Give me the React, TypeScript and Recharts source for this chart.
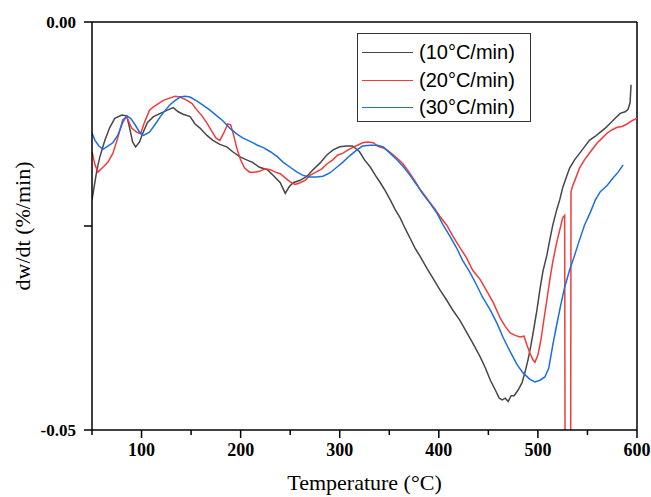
import React from 'react';
import { LineChart, Line, XAxis, YAxis, Legend, ReferenceLine } from 'recharts';

// [temperature °C, dw/dt %/min]
const rate10: [number, number][] = [
  [50, -0.0218], [55, -0.0181], [58, -0.0165], [63, -0.0145], [68, -0.0129], [73, -0.0118], [80, -0.0114],
  [85, -0.0115], [88, -0.013], [91, -0.0147], [94, -0.0153], [98, -0.0147], [101, -0.0137], [106, -0.0123],
  [112, -0.0116], [119, -0.0112], [126, -0.0108], [132, -0.0105], [137, -0.011], [142, -0.0113], [149, -0.0116],
  [154, -0.0125], [159, -0.013], [166, -0.0139], [172, -0.0145], [179, -0.015], [186, -0.0153], [192, -0.0159],
  [199, -0.0165], [206, -0.0169], [212, -0.0172], [219, -0.0178], [227, -0.0181], [233, -0.0188], [240, -0.0197],
  [245, -0.021], [249, -0.0202], [253, -0.0197], [260, -0.0194], [267, -0.0189], [273, -0.0181], [280, -0.0173],
  [287, -0.0163], [293, -0.0157], [300, -0.0153], [307, -0.0152], [313, -0.0152], [320, -0.0159], [325, -0.0169],
  [331, -0.0178], [336, -0.0188], [341, -0.0197], [346, -0.0207], [351, -0.0218], [356, -0.023], [361, -0.024],
  [366, -0.0253], [371, -0.0265], [376, -0.0277], [381, -0.0287], [388, -0.0302], [394, -0.0314], [401, -0.0328],
  [408, -0.0341], [414, -0.0353], [421, -0.0365], [428, -0.038], [434, -0.0393], [442, -0.0411], [447, -0.0424],
  [452, -0.0439], [457, -0.0451], [461, -0.0461], [464, -0.0463], [467, -0.0461], [470, -0.0465], [473, -0.0458],
  [476, -0.0458], [480, -0.0451], [484, -0.0442], [487, -0.0429], [490, -0.0414], [493, -0.0396], [496, -0.0375],
  [499, -0.0353], [502, -0.0328], [505, -0.0306], [509, -0.0286], [512, -0.0267], [515, -0.0249], [519, -0.023],
  [522, -0.0218], [525, -0.0203], [529, -0.0189], [532, -0.0179], [537, -0.0169], [542, -0.0161], [547, -0.0153],
  [552, -0.0145], [558, -0.014], [563, -0.0135], [568, -0.013], [573, -0.0124], [578, -0.0118], [583, -0.0112],
  [588, -0.011], [591, -0.0107], [593, -0.0099], [594, -0.0077],
];

const rate20: [number, number][] = [
  [50, -0.0159], [53, -0.0175], [56, -0.0184], [61, -0.0178], [66, -0.0172], [71, -0.0161], [76, -0.0142],
  [81, -0.012], [85, -0.0116], [90, -0.013], [95, -0.0135], [99, -0.0137], [103, -0.0123], [108, -0.0108],
  [112, -0.0104], [117, -0.01], [122, -0.0096], [129, -0.0093], [134, -0.0091], [139, -0.0092], [146, -0.0096],
  [151, -0.01], [156, -0.0108], [161, -0.0115], [166, -0.0124], [171, -0.0134], [175, -0.0142], [179, -0.0145],
  [183, -0.0136], [187, -0.0125], [190, -0.0126], [193, -0.0139], [196, -0.0154], [200, -0.0169], [204, -0.0179],
  [209, -0.0184], [214, -0.0184], [219, -0.0183], [225, -0.018], [230, -0.0181], [235, -0.0184], [240, -0.0186],
  [245, -0.0191], [250, -0.0196], [255, -0.0199], [260, -0.0197], [265, -0.0194], [270, -0.0188], [276, -0.0184],
  [282, -0.018], [287, -0.0174], [293, -0.0169], [298, -0.0163], [303, -0.0161], [308, -0.0157], [313, -0.0154],
  [318, -0.0151], [323, -0.0148], [328, -0.0147], [334, -0.0148], [338, -0.0152], [343, -0.0154], [348, -0.0157],
  [353, -0.0162], [358, -0.0167], [364, -0.0174], [370, -0.0184], [376, -0.0195], [381, -0.0205], [386, -0.0213],
  [391, -0.0221], [396, -0.0229], [401, -0.0238], [408, -0.0249], [414, -0.0262], [421, -0.0276], [428, -0.0289],
  [434, -0.0304], [442, -0.0316], [449, -0.0331], [455, -0.0344], [462, -0.0363], [467, -0.0373], [472, -0.0381],
  [477, -0.0384], [482, -0.0386], [486, -0.0385], [489, -0.0396], [492, -0.0406], [495, -0.0414], [497, -0.0417],
  [500, -0.0408], [503, -0.039], [506, -0.0365], [509, -0.0341], [512, -0.0316], [515, -0.0294], [519, -0.027],
  [522, -0.0255], [525, -0.024], [527, -0.0237], [527.5, -0.06], [533, -0.06], [533.4, -0.0208], [535, -0.0201],
  [537, -0.0195], [542, -0.0179], [547, -0.0169], [553, -0.0159], [560, -0.0148], [565, -0.0142], [570, -0.0136],
  [575, -0.0132], [580, -0.0129], [585, -0.0128], [590, -0.0125], [595, -0.0121], [600, -0.0118],
];

const rate30: [number, number][] = [
  [50, -0.0136], [53, -0.0145], [57, -0.0152], [61, -0.0156], [66, -0.0152], [71, -0.0148], [76, -0.0139],
  [81, -0.0123], [85, -0.0115], [89, -0.0118], [93, -0.0125], [98, -0.0135], [102, -0.0139], [108, -0.0135],
  [114, -0.0125], [119, -0.0116], [124, -0.0108], [129, -0.0101], [134, -0.0096], [139, -0.0092], [144, -0.0091],
  [149, -0.0092], [156, -0.0097], [162, -0.0102], [169, -0.0108], [176, -0.0115], [182, -0.0121], [189, -0.013],
  [196, -0.0137], [202, -0.0142], [209, -0.0146], [217, -0.0151], [223, -0.0154], [230, -0.0159], [237, -0.0165],
  [243, -0.0172], [250, -0.0178], [257, -0.0184], [263, -0.0188], [270, -0.019], [277, -0.019], [283, -0.0189],
  [290, -0.0185], [297, -0.0178], [303, -0.0172], [310, -0.0164], [317, -0.0157], [323, -0.0152], [331, -0.0151],
  [338, -0.0151], [344, -0.0153], [351, -0.0161], [358, -0.0169], [364, -0.0177], [371, -0.0188], [378, -0.02],
  [384, -0.0211], [391, -0.0222], [398, -0.0234], [404, -0.0248], [411, -0.0262], [418, -0.0277], [424, -0.0292],
  [431, -0.0306], [438, -0.0322], [444, -0.0337], [452, -0.0353], [459, -0.037], [465, -0.0387], [472, -0.0404],
  [479, -0.042], [485, -0.043], [492, -0.0438], [497, -0.0441], [502, -0.0439], [507, -0.0435], [511, -0.0424],
  [515, -0.0396], [519, -0.0371], [523, -0.0347], [527, -0.0325], [532, -0.0304], [537, -0.0286], [542, -0.0267],
  [547, -0.0249], [553, -0.0233], [558, -0.0218], [563, -0.0208], [570, -0.02], [576, -0.0191], [581, -0.0184],
  [586, -0.0175],
];

const seriesNames = ['(10°C/min)', '(20°C/min)', '(30°C/min)'];
const seriesColors = ['#474747', '#f23b3b', '#1b6fdf'];
const xTicks = [50, 100, 150, 200, 250, 300, 350, 400, 450, 500, 550, 600];
const xLabels = [100, 200, 300, 400, 500, 600];
const yTicks = [0, -0.025, -0.05];
const yLabels: Record<string, string> = { '0': '0.00', '-0.05': '-0.05' };

const toPoints = (arr: [number, number][]) => arr.map(([T, v]) => ({ T, v }));
const seriesData = [toPoints(rate10), toPoints(rate20), toPoints(rate30)];

const serif = "'Times New Roman', 'Liberation Serif', serif";

const XTick = (props: any) => {
  const { x, y, payload } = props;
  const major = xLabels.includes(payload.value);
  return (
    <g>
      <line x1={x} x2={x} y1={y} y2={y + (major ? 8 : 5)} stroke="#000" strokeWidth={1.5} />
      {major && (
        <text x={x} y={y + 26} textAnchor="middle" fontFamily={serif} fontWeight="bold" fontSize={18} fill="#000">
          {payload.value}
        </text>
      )}
    </g>
  );
};

const YTick = (props: any) => {
  const { x, y, payload } = props;
  const label = yLabels[String(payload.value)];
  return (
    <g>
      <line x1={x - 8} x2={x} y1={y} y2={y} stroke="#000" strokeWidth={1.5} />
      {label && (
        <text x={x - 16} y={y + 6} textAnchor="end" fontFamily={serif} fontWeight="bold" fontSize={17} fill="#000">
          {label}
        </text>
      )}
    </g>
  );
};

const LegendBox = () => (
  <div style={{ width: 172, height: 87, border: '1px solid #333', background: '#fff', boxSizing: 'content-box' }}>
    {seriesNames.map((name, i) => (
      <div key={name} style={{ display: 'flex', alignItems: 'center', height: 27.5, marginTop: i === 0 ? 5 : 0 }}>
        <div style={{ width: 51, height: 0, borderTop: `1.5px solid ${seriesColors[i]}`, marginLeft: 4, marginRight: 6 }} />
        <span style={{ fontFamily: "Arial, 'Liberation Sans', sans-serif", fontSize: 20, color: '#000' }}>{name}</span>
      </div>
    ))}
  </div>
);

export default function App() {
  return (
    <div style={{ position: 'fixed', left: 0, top: 0, width: 651, height: 497, background: '#fff' }}>
      <LineChart width={651} height={497} margin={{ top: 22, right: 14, bottom: 0, left: 0 }}>
        <XAxis
          type="number"
          dataKey="T"
          domain={[50, 600]}
          allowDataOverflow
          ticks={xTicks}
          interval={0}
          height={67}
          tickSize={0}
          tickMargin={0}
          tickLine={false}
          tick={<XTick />}
          axisLine={{ stroke: '#000', strokeWidth: 1.5 }}
          label={{ value: 'Temperature (°C)', position: 'insideBottom', offset: 7, fontFamily: serif, fontSize: 22, fill: '#000' }}
        />
        <YAxis
          type="number"
          dataKey="v"
          domain={[-0.05, 0]}
          allowDataOverflow
          ticks={yTicks}
          interval={0}
          width={92}
          tickSize={0}
          tickMargin={0}
          tickLine={false}
          tick={<YTick />}
          axisLine={{ stroke: '#000', strokeWidth: 1.5 }}
          label={{ value: 'dw/dt (%/min)', angle: -90, position: 'insideLeft', offset: 22, fontFamily: serif, fontSize: 22, fill: '#000', style: { textAnchor: 'middle' } }}
        />
        <ReferenceLine y={0} stroke="#000" strokeWidth={1.5} />
        <ReferenceLine x={600} stroke="#000" strokeWidth={1.5} />
        {seriesData.map((d, i) => (
          <Line
            key={seriesNames[i]}
            data={d}
            dataKey="v"
            name={seriesNames[i]}
            type="linear"
            stroke={seriesColors[i]}
            strokeWidth={1.5}
            dot={false}
            isAnimationActive={false}
          />
        ))}
        <Legend
          layout="horizontal"
          verticalAlign="middle"
          align="center"
          content={<LegendBox />}
          wrapperStyle={{ left: 357, top: 33, width: 174, height: 89 }}
        />
      </LineChart>
    </div>
  );
}
